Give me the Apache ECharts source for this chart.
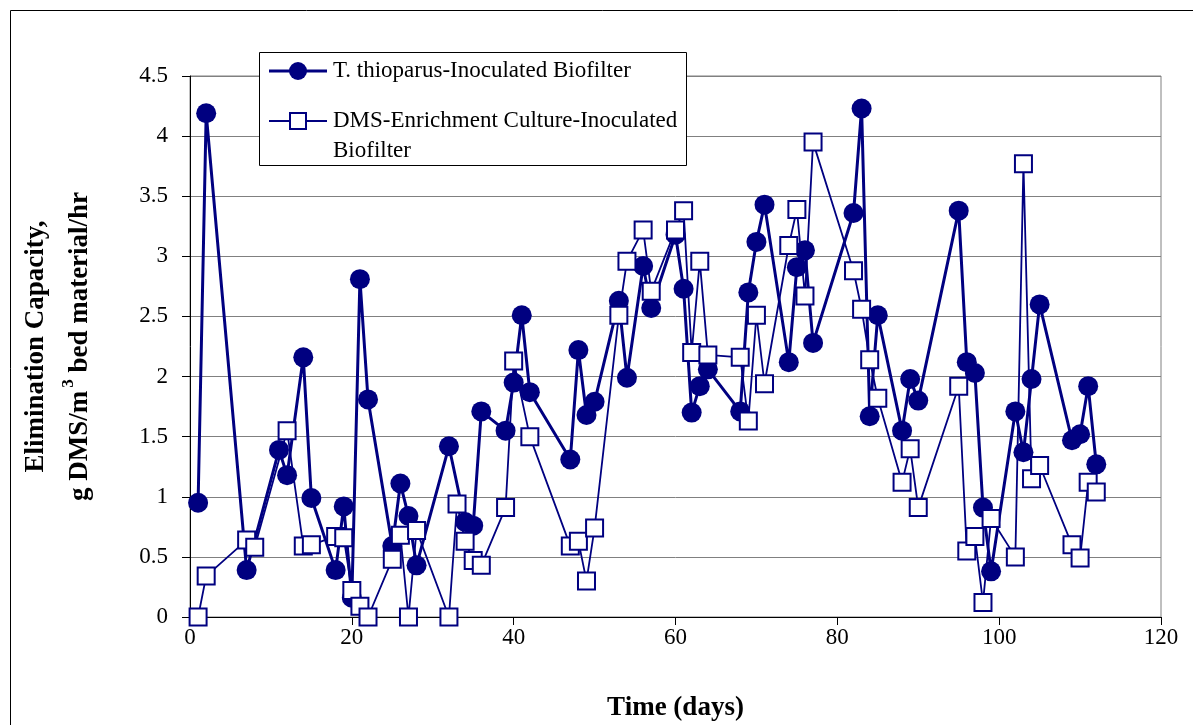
<!DOCTYPE html>
<html>
<head>
<meta charset="utf-8">
<script src="https://cdn.jsdelivr.net/npm/echarts@6/dist/echarts.min.js"></script>
<style>
  html, body { margin: 0; padding: 0; background: #fff; }
  #chart { width: 1193px; height: 725px; }
</style>
</head>
<body>
<div id="chart"></div>
<script>
  // T. thioparus-inoculated biofilter
  var days1 = [1, 2, 7, 11, 12, 14, 15, 18, 19, 20, 21, 22, 25, 26, 27, 28, 32, 34, 35, 36,
    39, 40, 41, 42, 47, 48, 49, 50, 53, 54, 56, 57, 60, 61, 62, 63, 64, 68, 69, 70,
    71, 74, 75, 76, 77, 82, 83, 84, 85, 88, 89, 90, 95, 96, 97, 98, 99, 102, 103, 104,
    105, 109, 110, 111, 112];
  var ec1 = [0.95, 4.19, 0.39, 1.39, 1.18, 2.16, 0.99, 0.39, 0.92, 0.16, 2.81, 1.81, 0.59, 1.11, 0.84, 0.43, 1.42, 0.79, 0.76, 1.71,
    1.55, 1.95, 2.51, 1.87, 1.31, 2.22, 1.68, 1.79, 2.63, 1.99, 2.92, 2.57, 3.18, 2.73, 1.70, 1.92, 2.06, 1.71, 2.70, 3.12,
    3.43, 2.12, 2.91, 3.05, 2.28, 3.36, 4.23, 1.67, 2.51, 1.55, 1.98, 1.80, 3.38, 2.12, 2.03, 0.91, 0.38, 1.71, 1.37, 1.98,
    2.60, 1.47, 1.52, 1.92, 1.27];

  // DMS-enrichment culture-inoculated biofilter
  var days2 = [1, 2, 7, 8, 12, 14, 15, 18, 19, 20, 21, 22, 25, 26, 27, 28, 32, 33, 34, 35,
    36, 39, 40, 42, 47, 48, 49, 50, 53, 54, 56, 57, 60, 61, 62, 63, 64, 68, 69, 70,
    71, 74, 75, 76, 77, 82, 83, 84, 85, 88, 89, 90, 95, 96, 97, 98, 99, 102, 103, 104,
    105, 109, 110, 111, 112];
  var ec2 = [0, 0.34, 0.64, 0.58, 1.55, 0.59, 0.60, 0.67, 0.66, 0.22, 0.09, 0, 0.48, 0.68, 0, 0.72, 0, 0.94, 0.63, 0.47,
    0.43, 0.91, 2.13, 1.50, 0.59, 0.63, 0.30, 0.74, 2.51, 2.96, 3.22, 2.71, 3.22, 3.38, 2.20, 2.96, 2.18, 2.16, 1.63, 2.51,
    1.94, 3.09, 3.39, 2.67, 3.95, 2.88, 2.56, 2.14, 1.82, 1.12, 1.40, 0.91, 1.92, 0.55, 0.67, 0.12, 0.82, 0.50, 3.77, 1.15,
    1.26, 0.60, 0.49, 1.12, 1.04];

  var seriesNames = ['T. thioparus-Inoculated Biofilter', 'DMS-Enrichment Culture-Inoculated\nBiofilter'];
  var xTicks = { min: 0, max: 120, step: 20 };
  var yTicks = { min: 0, max: 4.5, step: 0.5 };

  var navy = '#000080';
  var serif = '"Liberation Serif", "Times New Roman", serif';

  function pairs(xs, ys) {
    var out = [];
    xs.forEach(function (x, i) { out.push([x, ys[i]]); });
    return out;
  }

  var chart = echarts.init(document.getElementById('chart'));

  chart.setOption({
    animation: false,
    backgroundColor: '#fff',
    grid: {
      show: true,
      left: 190, top: 76, right: 32, bottom: 108,
      outerBoundsMode: 'none',
      borderColor: '#808080', borderWidth: 1,
      backgroundColor: 'transparent'
    },
    xAxis: {
      type: 'value',
      min: xTicks.min, max: xTicks.max, interval: xTicks.step,
      name: 'Time (days)',
      nameLocation: 'middle',
      nameGap: 78,
      nameTextStyle: { fontFamily: serif, fontSize: 27, fontWeight: 'bold', color: '#000' },
      axisLine: { lineStyle: { color: '#000', width: 1 } },
      axisTick: { length: 8, lineStyle: { color: '#000' } },
      axisLabel: { fontFamily: serif, fontSize: 23, color: '#000', margin: 9 },
      splitLine: { show: false }
    },
    yAxis: {
      type: 'value',
      min: yTicks.min, max: yTicks.max, interval: yTicks.step,
      name: '{a|Elimination Capacity,}\n{a|g DMS/m}{s|3}{a| bed material/hr}',
      nameLocation: 'middle',
      nameRotate: 90,
      nameGap: 88,
      nameTextStyle: {
        rich: {
          a: { fontFamily: serif, fontSize: 27, fontWeight: 'bold', color: '#000', lineHeight: 44 },
          s: { fontFamily: serif, fontSize: 17, fontWeight: 'bold', color: '#000', padding: [0, 0, 22, 3] }
        }
      },
      axisLine: { show: true, lineStyle: { color: '#000', width: 1 } },
      axisTick: { show: true, length: 8, lineStyle: { color: '#000' } },
      axisLabel: { fontFamily: serif, fontSize: 23, color: '#000', margin: 22 },
      splitLine: { lineStyle: { color: '#808080', width: 1 } }
    },
    series: [
      {
        name: seriesNames[0],
        type: 'line',
        data: pairs(days1, ec1),
        symbol: 'circle',
        symbolSize: 20,
        lineStyle: { color: navy, width: 3 },
        itemStyle: { color: navy },
        emphasis: { disabled: true }
      },
      {
        name: seriesNames[1],
        type: 'line',
        data: pairs(days2, ec2),
        symbol: 'rect',
        symbolSize: 17,
        lineStyle: { color: navy, width: 1.8 },
        itemStyle: { color: '#fff', borderColor: navy, borderWidth: 2 },
        emphasis: { disabled: true }
      }
    ],
    graphic: [
      /* outer chart border */
      {
        type: 'rect', silent: true, z: 0,
        shape: { x: 10.5, y: 10.5, width: 1300, height: 900 },
        style: { fill: null, stroke: '#000', lineWidth: 1 }
      },
      /* legend box */
      {
        type: 'rect', z: 100,
        shape: { x: 259.5, y: 52.5, width: 427, height: 113 },
        style: { fill: '#fff', stroke: '#000', lineWidth: 1 }
      },
      {
        type: 'line', z: 101,
        shape: { x1: 269, y1: 71, x2: 327, y2: 71 },
        style: { stroke: navy, lineWidth: 3 }
      },
      {
        type: 'circle', z: 101,
        shape: { cx: 298, cy: 71, r: 9 },
        style: { fill: navy }
      },
      {
        type: 'text', z: 101,
        x: 333, y: 71,
        style: { text: seriesNames[0], font: '23px ' + serif, fill: '#000', verticalAlign: 'middle' }
      },
      {
        type: 'line', z: 101,
        shape: { x1: 269, y1: 121, x2: 327, y2: 121 },
        style: { stroke: navy, lineWidth: 1.8 }
      },
      {
        type: 'rect', z: 101,
        shape: { x: 290, y: 113, width: 16, height: 16 },
        style: { fill: '#fff', stroke: navy, lineWidth: 2 }
      },
      {
        type: 'text', z: 101,
        x: 333, y: 106,
        style: { text: seriesNames[1], font: '23px ' + serif, fill: '#000', verticalAlign: 'top', lineHeight: 30 }
      }
    ]
  });
</script>
</body>
</html>
